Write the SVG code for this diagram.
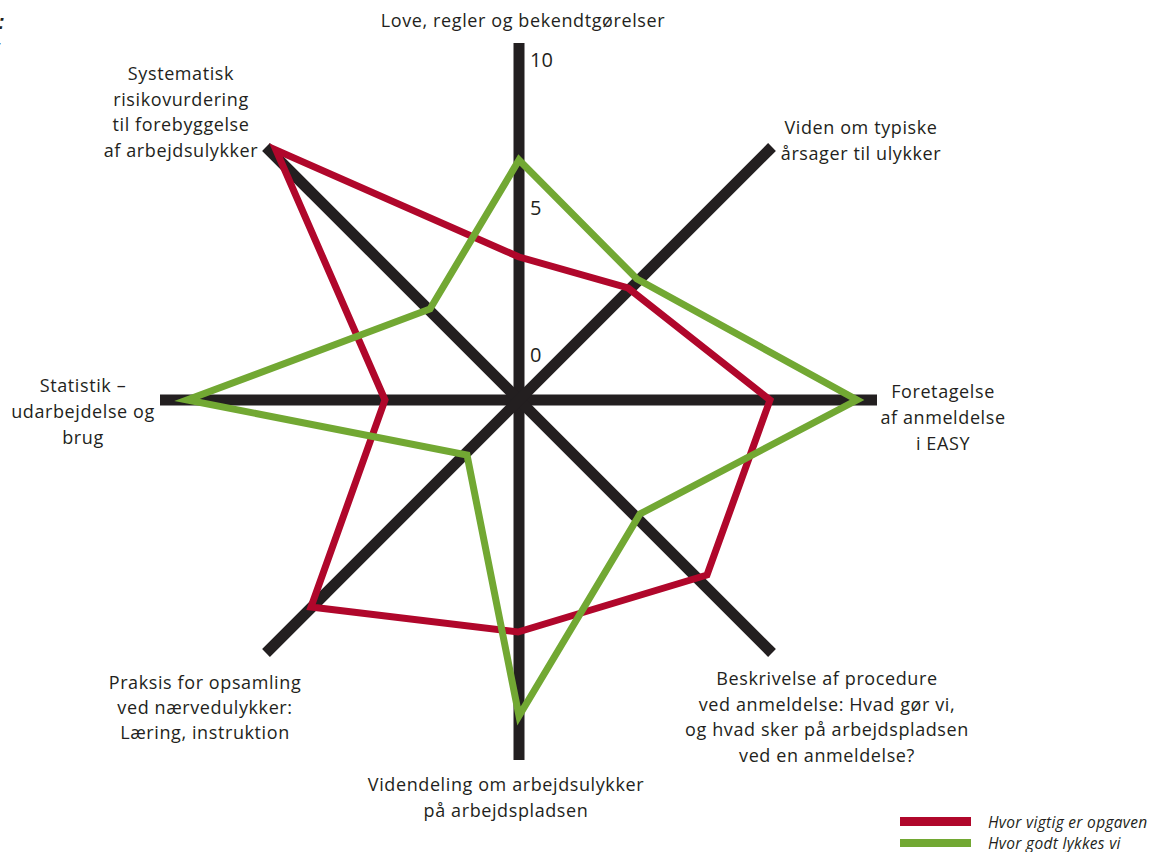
<svg xmlns="http://www.w3.org/2000/svg" width="1158" height="852" viewBox="0 0 1158 852">
<style>
.lbl{font-family:"Open Sans","Liberation Sans",Arial,sans-serif;font-size:18px;letter-spacing:0.6px;fill:#231f20;text-anchor:middle}
.num{font-family:"Open Sans","Liberation Sans",Arial,sans-serif;font-size:20px;fill:#231f20}
.leg{font-family:"Open Sans","Liberation Sans",Arial,sans-serif;font-size:15.5px;letter-spacing:0.3px;font-style:italic;fill:#231f20}
.axis{stroke:#231f20;stroke-width:11;stroke-linecap:butt;fill:none}
.red{stroke:#b0072b;stroke-width:7;fill:none;stroke-linejoin:miter}
.green{stroke:#72a833;stroke-width:7;fill:none;stroke-linejoin:miter}
</style>
<rect width="1158" height="852" fill="#ffffff"/>
<text x="-2" y="29" font-family="Liberation Sans,Arial,sans-serif" font-size="20" font-weight="bold" font-style="italic" fill="#231f20">:</text>
<text x="-3" y="51" font-family="Liberation Sans,Arial,sans-serif" font-size="14" font-style="italic" fill="#231f20">;</text>
<g id="axes">
<line class="axis" x1="519" y1="43" x2="519" y2="760"/>
<line class="axis" x1="160" y1="400" x2="877" y2="400"/>
<line class="axis" x1="266" y1="147" x2="772" y2="653"/>
<line class="axis" x1="772" y1="147" x2="266" y2="653"/>
</g>
<g id="scale">
<text class="num" x="530" y="67">10</text>
<text class="num" x="530" y="215">5</text>
<text class="num" x="530" y="362">0</text>
</g>
<g id="series">
<polygon id="red-series" class="red" points="519,257 628,288 770,400 707,575 518,632 311,607 385,400 276,150"/>
<polygon id="green-series" class="green" points="519,160 637,279 857,400 640,514 519,716 467,455 187,400 430,309"/>
</g>
<g id="label-love"><text class="lbl" x="523" y="27">Love, regler og bekendtgørelser</text></g>
<g id="label-viden"><text class="lbl" x="861" y="134">Viden om typiske</text><text class="lbl" x="861" y="160">årsager til ulykker</text></g>
<g id="label-systematisk"><text class="lbl" x="181" y="80">Systematisk</text><text class="lbl" x="181" y="106">risikovurdering</text><text class="lbl" x="181" y="131">til forebyggelse</text><text class="lbl" x="181" y="157">af arbejdsulykker</text></g>
<g id="label-foretagelse"><text class="lbl" x="943" y="398">Foretagelse</text><text class="lbl" x="943" y="424">af anmeldelse</text><text class="lbl" x="943" y="450">i EASY</text></g>
<g id="label-statistik"><text class="lbl" x="83" y="392">Statistik –</text><text class="lbl" x="83" y="418">udarbejdelse og</text><text class="lbl" x="83" y="444">brug</text></g>
<g id="label-praksis"><text class="lbl" x="205" y="689">Praksis for opsamling</text><text class="lbl" x="205" y="714">ved nærvedulykker:</text><text class="lbl" x="205" y="739">Læring, instruktion</text></g>
<g id="label-beskrivelse"><text class="lbl" x="827" y="685">Beskrivelse af procedure</text><text class="lbl" x="827" y="711">ved anmeldelse: Hvad gør vi,</text><text class="lbl" x="827" y="736">og hvad sker på arbejdspladsen</text><text class="lbl" x="827" y="762">ved en anmeldelse?</text></g>
<g id="label-videndeling"><text class="lbl" x="506" y="791">Videndeling om arbejdsulykker</text><text class="lbl" x="506" y="817">på arbejdspladsen</text></g>
<g id="legend">
<rect x="900" y="817" width="71" height="9" fill="#b0072b"/>
<rect x="900" y="839" width="71" height="8" fill="#72a833"/>
<text class="leg" x="988" y="828">Hvor vigtig er opgaven</text>
<text class="leg" x="988" y="849">Hvor godt lykkes vi</text>
</g>
</svg>
